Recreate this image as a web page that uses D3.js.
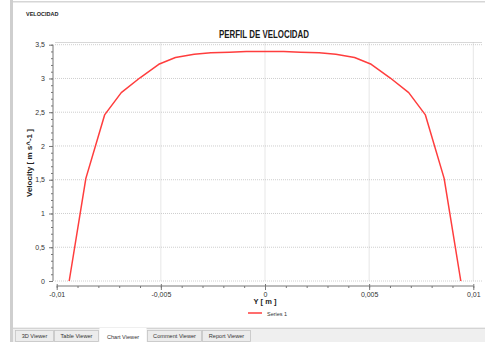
<!DOCTYPE html>
<html>
<head>
<meta charset="utf-8">
<script src="https://cdn.jsdelivr.net/npm/d3@7"></script>
<style>
  html, body { margin: 0; padding: 0; background: #fff; }
  svg { display: block; font-family: "Liberation Sans", Arial, sans-serif; }
</style>
</head>
<body>
<svg id="chart" width="485" height="342"></svg>
<script>
// Velocity profile across the channel (position in m, velocity in m s^-1)
const positions = [-0.0094, -0.0086, -0.0077, -0.0069, -0.0060, -0.0051, -0.0043, -0.0034,
                   -0.0026, -0.0017, -0.0009, 0, 0.0009, 0.0017, 0.0026,
                   0.0034, 0.0043, 0.0051, 0.0060, 0.0069, 0.0077, 0.0086, 0.0094];
const velocities = [0, 1.52, 2.46, 2.79, 3.01, 3.21, 3.31, 3.36,
                    3.38, 3.39, 3.40, 3.40, 3.40, 3.39, 3.38,
                    3.36, 3.31, 3.21, 3.01, 2.79, 2.46, 1.52, 0];
const xTicks = [-0.01, -0.005, 0, 0.005, 0.01];
const yTicks = [0, 0.5, 1, 1.5, 2, 2.5, 3, 3.5];
const tabNames = ["3D Viewer", "Table Viewer", "Chart Viewer", "Comment Viewer", "Report Viewer"];

const svg = d3.select("#chart");
const locale = d3.formatLocale({ decimal: ",", thousands: ".", grouping: [3], currency: ["", ""], minus: "-" });
const fmt = v => locale.format("~g")(v);

// window frame
svg.append("rect").attr("x", 10).attr("y", 0).attr("width", 3).attr("height", 342).attr("fill", "#cfcfcf");
svg.append("rect").attr("x", 13).attr("y", 1).attr("width", 472).attr("height", 1.5).attr("fill", "#d6d6d6");

svg.append("text").attr("x", 26).attr("y", 16).attr("font-size", 5.5).attr("font-weight", "bold")
  .attr("fill", "#222").text("VELOCIDAD");

const x = d3.scaleLinear().domain([-0.01, 0.01]).range([56.7, 473.3]);
const y = d3.scaleLinear().domain([0, 3.5]).range([281, 44.7]);

const plotLeft = 55, plotRight = 482, plotTop = 42.5;

// plot top border
svg.append("line").attr("x1", plotLeft).attr("x2", plotRight).attr("y1", plotTop).attr("y2", plotTop)
  .attr("stroke", "#d8d8d8").attr("stroke-width", 1);

// grid
const grid = svg.append("g").attr("stroke", "#c2c2c2").attr("stroke-width", 0.8).attr("stroke-dasharray", "1,1");
grid.selectAll(".h").data(yTicks).join("line")
  .attr("x1", plotLeft).attr("x2", plotRight).attr("y1", d => y(d)).attr("y2", d => y(d));
grid.selectAll(".v").data(xTicks.slice(1)).join("line")
  .attr("x1", d => x(d)).attr("x2", d => x(d)).attr("y1", plotTop).attr("y2", y(0));

// y axis
const yAxisX = 53;
const yMinor = d3.range(0, 3.5001, 0.1).map(v => +v.toFixed(2));
svg.append("g").attr("transform", `translate(${yAxisX},0)`)
  .call(d3.axisLeft(y).tickValues(yMinor).tickSize(2).tickFormat(""))
  .call(g => g.select(".domain").remove())
  .call(g => g.selectAll("line").attr("stroke", "#777"));
svg.append("g").attr("transform", `translate(${yAxisX},0)`)
  .call(d3.axisLeft(y).tickValues(yTicks).tickSize(4).tickPadding(4).tickFormat(fmt))
  .call(g => g.select(".domain").attr("stroke", "#777").attr("d", `M0,${y(3.5)}V${y(0)}`))
  .call(g => g.selectAll("line").attr("stroke", "#777"))
  .call(g => g.selectAll("text").attr("font-size", 7).attr("fill", "#333").attr("font-family", "Liberation Sans, Arial, sans-serif"));

// x axis
const xAxisY = 286;
const xMinor = d3.range(-0.01, 0.01001, 0.001).map(v => +v.toFixed(4));
svg.append("g").attr("transform", `translate(0,${xAxisY})`)
  .call(d3.axisBottom(x).tickValues(xMinor).tickSize(2).tickFormat(""))
  .call(g => g.select(".domain").remove())
  .call(g => g.selectAll("line").attr("stroke", "#777"));
svg.append("g").attr("transform", `translate(0,${xAxisY})`)
  .call(d3.axisBottom(x).tickValues(xTicks).tickSize(4).tickPadding(2).tickFormat(fmt))
  .call(g => g.select(".domain").attr("stroke", "#777").attr("d", `M${x(-0.01)},0H${x(0.01)}`))
  .call(g => g.selectAll("line").attr("stroke", "#777").attr("y1", -2))
  .call(g => g.selectAll("text").attr("font-size", 7).attr("fill", "#333").attr("font-family", "Liberation Sans, Arial, sans-serif"));

// profile line
const line = d3.line().x((d, i) => x(positions[i])).y(d => y(d));
svg.append("path").datum(velocities).attr("d", line)
  .attr("fill", "none").attr("stroke", "#ff3d3d").attr("stroke-width", 1.5).attr("stroke-linejoin", "round");

// titles
svg.append("text").attr("x", 264).attr("y", 37.5).attr("text-anchor", "middle")
  .attr("font-size", 10.5).attr("font-weight", "bold").attr("fill", "#1a1a1a")
  .attr("textLength", 90).attr("lengthAdjust", "spacingAndGlyphs").text("PERFIL DE VELOCIDAD");

svg.append("text").attr("x", 265).attr("y", 304).attr("text-anchor", "middle")
  .attr("font-size", 7.5).attr("font-weight", "bold").attr("fill", "#222").text("Y [ m ]");

svg.append("text").attr("transform", "translate(32,163) rotate(-90)").attr("text-anchor", "middle")
  .attr("font-size", 7).attr("font-weight", "bold").attr("fill", "#222")
  .attr("textLength", 68).attr("lengthAdjust", "spacingAndGlyphs")
  .text("Velocity [ m s^-1 ]");

// legend
svg.append("line").attr("x1", 248).attr("x2", 262).attr("y1", 313).attr("y2", 313)
  .attr("stroke", "#ff3d3d").attr("stroke-width", 1.5);
svg.append("text").attr("x", 267).attr("y", 315.5).attr("font-size", 5.5).attr("fill", "#333").text("Series 1");

// tab bar
svg.append("rect").attr("x", 13).attr("y", 327).attr("width", 472).attr("height", 15).attr("fill", "#efefef");
svg.append("line").attr("x1", 13).attr("x2", 485).attr("y1", 328.5).attr("y2", 328.5).attr("stroke", "#d4d4d4");
const tabEdges = [15, 54, 99, 147, 202, 251];
const tabs = svg.append("g");
tabNames.forEach((name, i) => {
  const x0 = tabEdges[i], x1 = tabEdges[i + 1];
  const active = name === "Chart Viewer";
  tabs.append("rect").attr("x", x0 + 0.5).attr("y", active ? 328 : 330.5)
    .attr("width", x1 - x0 - 1).attr("height", active ? 14 : 11)
    .attr("fill", active ? "#fff" : "#ececec").attr("stroke", active ? "none" : "#c4c4c4").attr("stroke-width", 0.8);
  tabs.append("text").attr("x", (x0 + x1) / 2).attr("y", active ? 338.5 : 338)
    .attr("text-anchor", "middle").attr("font-size", 5.6).attr("fill", "#333").text(name);
});
</script>
</body>
</html>
